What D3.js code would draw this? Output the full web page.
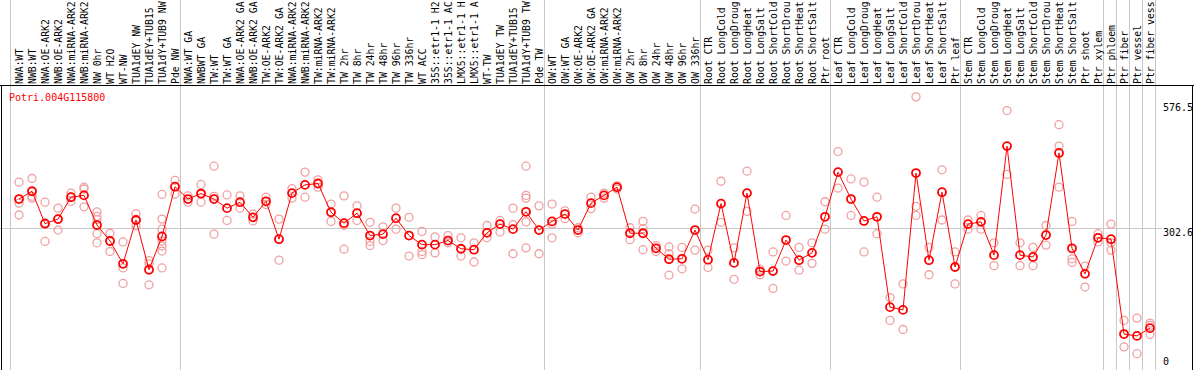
<!DOCTYPE html>
<html>
<head>
<meta charset="utf-8">
<script src="https://cdn.jsdelivr.net/npm/d3@7"></script>
<style>
  body { margin: 0; background: #fff; }
  text { font-family: "DejaVu Sans Mono", monospace; font-size: 10px; }
  .lab { font-size: 9.8px; }
</style>
</head>
<body>
<div id="chart"></div>
<script>
const geneId = "Potri.004G115800"

// sample names as far as they show in the header (longer ones are cut by the top edge)
const sampleLabels = [
  "NWA:WT", "NWB:WT", "NWA:OE-ARK2", "NWB:OE-ARK2", "NWA:miRNA-ARK2", "NWB:miRNA-ARK2",
  "NW 0hr", "WT H2O", "WT-NW", "TUA1dEY NW", "TUA1dEY+TUB15", "TUA1dY+TUB9 NW", "Pde NW",
  "NWA:WT GA", "NWBWT GA", "TW:WT", "TW:WT GA", "NWA:OE-ARK2 GA", "NWB:OE-ARK2 GA",
  "TW:OE-ARK2", "TW:OE-ARK2 GA", "NWA:miRNA-ARK2", "NWB:miRNA-ARK2", "TW:miRNA-ARK2",
  "TW:miRNA-ARK2", "TW 2hr", "TW 8hr", "TW 24hr", "TW 48hr", "TW 96hr", "TW 336hr",
  "WT ACC", "35S::etr1-1 H2", "35S::etr1-1 AC", "LMX5::etr1-1 H", "LMX5::etr1-1 A",
  "WT-TW", "TUA1dEY TW", "TUA1dEY+TUB15", "TUA1dY+TUB9 TW", "Pde TW",
  "OW:WT", "OW:WT GA", "OW:OE-ARK2", "OW:OE-ARK2 GA", "OW:miRNA-ARK2", "OW:miRNA-ARK2",
  "OW 2hr", "OW 8hr", "OW 24hr", "OW 48hr", "OW 96hr", "OW 336hr",
  "Root CTR", "Root LongCold", "Root LongDroug", "Root LongHeat", "Root LongSalt",
  "Root ShortCold", "Root ShortDrou", "Root ShortHeat", "Root ShortSalt", "Ptr root",
  "Leaf CTR", "Leaf LongCold", "Leaf LongDroug", "Leaf LongHeat", "Leaf LongSalt",
  "Leaf ShortCold", "Leaf ShortDrou", "Leaf ShortHeat", "Leaf ShortSalt", "Ptr leaf",
  "Stem CTR", "Stem LongCold", "Stem LongDroug", "Stem LongHeat", "Stem LongSalt",
  "Stem ShortCold", "Stem ShortDrou", "Stem ShortHeat", "Stem ShortSalt", "Ptr shoot",
  "Ptr xylem", "Ptr phloem", "Ptr fiber", "Ptr vessel", "Ptr fiber vess"
]

// number of samples in each block between grey separators
const groupSizes = [13, 28, 12, 10, 10, 11, 1, 1, 1, 1]

const meanValues = [
  366, 383, 312, 322, 370, 374, 309, 274, 224, 320, 211, 284, 393,
  366, 378, 366, 346, 359, 326, 361, 278, 379, 397, 400, 337, 313, 335, 286, 289, 324, 286,
  266, 266, 275, 257, 255, 292, 311, 300, 338, 298,
  317, 333, 298, 357, 374, 392, 291, 291, 258, 234, 235, 298,
  233, 356, 226, 379, 207, 208, 276, 232, 248, 327,
  425, 366, 318, 327, 129, 123, 423, 232, 381, 217,
  311, 316, 243, 482, 243, 239, 287, 467, 258, 202,
  281, 278, 70, 66, 83
]

const replicateValues = [
  [403, 357, 331], [411, 372, 368], [359, 314, 273], [346, 322, 298], [379, 370, 361],
  [392, 388, 349], [338, 328, 321, 290, 270], [291, 274, 251], [272, 215, 181],
  [334, 320, 307], [231, 224, 178], [376, 322, 300, 274, 263, 252, 215], [407, 393, 377],
  [373, 359], [398, 359, 376], [438, 372, 289], [375, 319], [373, 346], [333, 318],
  [370, 354], [322, 278, 232], [389, 368], [425, 370], [408, 392], [355, 317],
  [373, 308, 256], [351, 319], [315, 273, 264], [305, 275], [346, 300], [326, 241],
  [295, 251, 244], [283, 248], [286, 270], [281, 241], [270, 228], [308, 281], [319, 294],
  [346, 310, 246], [438, 374, 368, 316, 259], [351, 246],
  [355, 311, 281], [340, 323], [303, 292], [370, 345], [379, 368], [395, 388], [303, 277],
  [317, 301, 255], [264, 251], [261, 246, 199], [260, 213], [344, 254],
  [254, 216], [405, 315], [259, 190], [427, 339], [212, 200], [250, 170], [330, 230],
  [260, 210], [270, 225], [360, 300],
  [470, 390], [410, 330], [403, 250], [370, 290], [150, 100], [180, 80], [590, 350, 330],
  [260, 200], [430, 320], [250, 180],
  [320, 300], [330, 300], [270, 220], [560, 420], [270, 220], [260, 220], [308, 265],
  [529, 482, 392], [317, 235, 227], [219, 173], [290, 272], [311, 270, 254],
  [100, 42], [105, 27], [94, 89, 69]
]

const yTicks = [0, 302.6, 576.5]

const width = 1194, height = 370
const plotTop = 86

const svg = d3.select("#chart").append("svg")
  .attr("width", width)
  .attr("height", height)

svg.append("rect").attr("width", width).attr("height", height).attr("fill", "#fff")

const x = d3.scalePoint()
  .domain(d3.range(sampleLabels.length))
  .range([19, 1150])

const y = d3.scaleLinear()
  .domain([0, 576.5])
  .range([366, 103])

// grey separators between sample blocks
let ends = [-1]
let acc = 0
groupSizes.forEach(g => { acc += g; ends.push(acc - 1) })
svg.selectAll(".sep")
  .data(ends)
  .enter().append("line")
  .attr("x1", d => d < 0 ? x(0) - 8.5 : x(d) + 5.5)
  .attr("x2", d => d < 0 ? x(0) - 8.5 : x(d) + 5.5)
  .attr("y1", 0).attr("y2", height)
  .attr("stroke", "#c8c8c8")

// horizontal reference line at the middle tick
svg.append("line")
  .attr("x1", 0).attr("x2", 1162)
  .attr("y1", Math.round(y(yTicks[1])) + 0.5).attr("y2", Math.round(y(yTicks[1])) + 0.5)
  .attr("stroke", "#c8c8c8")

// frame
svg.append("line").attr("x1", 0).attr("x2", width).attr("y1", plotTop - 0.5).attr("y2", plotTop - 0.5)
  .attr("stroke", "#000")
svg.append("line").attr("x1", 1.5).attr("x2", 1.5).attr("y1", plotTop).attr("y2", height)
  .attr("stroke", "#000")
svg.append("line").attr("x1", width - 1.5).attr("x2", width - 1.5).attr("y1", plotTop).attr("y2", height)
  .attr("stroke", "#000")

// sample labels, rotated
svg.selectAll(".lab")
  .data(sampleLabels)
  .enter().append("text")
  .attr("class", "lab")
  .attr("transform", (d, i) => "translate(" + (x(i) + 4) + "," + (plotTop - 2) + ") rotate(-90)")
  .attr("fill", "#000")
  .text(d => d)

// y tick labels on the right
svg.selectAll(".tick")
  .data(yTicks)
  .enter().append("text")
  .attr("x", 1163)
  .attr("y", d => d == 0 ? y(d) - 1 : y(d) + 8)
  .attr("fill", "#000")
  .text(d => d)

svg.append("text")
  .attr("x", 9).attr("y", 101)
  .attr("fill", "#ff0000")
  .text(geneId)

// replicates
let reps = []
replicateValues.forEach((arr, i) => arr.forEach(v => reps.push({i: i, v: v})))
svg.selectAll(".rep")
  .data(reps)
  .enter().append("circle")
  .attr("cx", d => x(d.i))
  .attr("cy", d => y(d.v))
  .attr("r", 4)
  .attr("fill", "none")
  .attr("stroke", "#f0a0a0")
  .attr("stroke-width", 1.3)

const line = d3.line()
  .x((d, i) => x(i))
  .y(d => y(d))

svg.append("path")
  .attr("d", line(meanValues))
  .attr("fill", "none")
  .attr("stroke", "#ff0000")
  .attr("stroke-width", 1)

svg.selectAll(".mean")
  .data(meanValues)
  .enter().append("circle")
  .attr("cx", (d, i) => x(i))
  .attr("cy", d => y(d))
  .attr("r", 4)
  .attr("fill", "none")
  .attr("stroke", "#ff0000")
  .attr("stroke-width", 1.8)
</script>
</body>
</html>
